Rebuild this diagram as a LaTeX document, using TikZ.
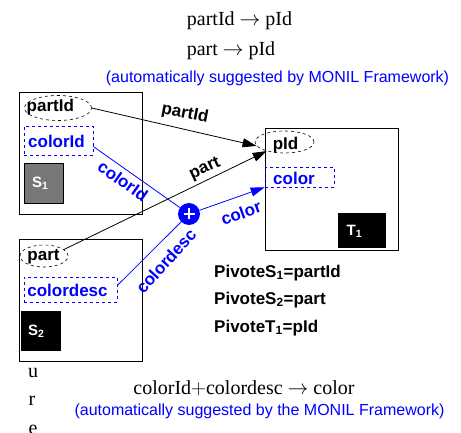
\documentclass[tikz,border=0pt]{standalone}
\usepackage{fontspec}
\setmainfont{Liberation Serif}
\setsansfont{Liberation Sans}
\usetikzlibrary{shapes.geometric,arrows.meta}
\definecolor{mblue}{RGB}{0,0,255}
\definecolor{sgray}{RGB}{120,120,120}
\begin{document}
\begin{tikzpicture}[x=1pt,y=-1pt,
  box/.style={draw, line width=0.8pt, inner sep=0pt, anchor=north west},
  idbox/.style={draw, dashed, line width=0.6pt, inner sep=0pt},
  attr/.style={font=\sffamily\bfseries\fontsize{17}{19}\selectfont, inner sep=0pt},
  lab/.style={font=\sffamily\bfseries\fontsize{17}{19}\selectfont, inner sep=0pt},
  tag/.style={font=\sffamily\bfseries\fontsize{15}{17}\selectfont, text=white, inner sep=0pt},
  serif/.style={font=\rmfamily\fontsize{20}{22}\selectfont, inner sep=0pt, anchor=base},
  note/.style={font=\sffamily\fontsize{16}{18}\selectfont, text=mblue, inner sep=0pt, anchor=base},
  piv/.style={font=\sffamily\bfseries\fontsize{17}{19}\selectfont, inner sep=0pt, anchor=base west},
  arr/.style={line width=0.8pt, -{Triangle[length=14pt,width=9pt]}},
  conn/.style={line width=0.8pt}
]
\useasboundingbox (0,0) rectangle (461,433);

% top text
\node[serif] (f1) at (239.5,26) {partId $\rightarrow$ pId};
\node[serif] (f2) at (231,56) {part $\rightarrow$ pId};
\node[note] (n1) at (277.5,83) {(automatically suggested by MONIL Framework)};

% S1 box
\node[box, minimum width=123pt, minimum height=122pt] (S1) at (19,92) {};
\node[draw, dashed, ellipse, line width=0.6pt, minimum width=67pt, minimum height=25pt, inner sep=0pt] (e1) at (58,108) {};
\node[attr, anchor=west] (t1) at (26.5,107) {partId};
\node[idbox, draw=mblue, minimum width=69pt, minimum height=29pt] (r1) at (58.5,140.5) {};
\node[attr, text=mblue] (t2) at (56.5,141) {colorId};
\node[draw, fill=sgray, line width=0.8pt, minimum width=39pt, minimum height=40pt, inner sep=0pt] (g1) at (43.5,183) {};
\node[tag, anchor=west] (s1) at (32,183) {S\textsubscript{1}};

% S2 box
\node[box, minimum width=123pt, minimum height=122pt] (S2) at (19,239) {};
\node[draw, dashed, ellipse, line width=0.6pt, minimum width=48pt, minimum height=22pt, inner sep=0pt] (e2) at (44,256) {};
\node[attr] (t3) at (43.5,256.5) {part};
\node[idbox, draw=mblue, minimum width=93pt, minimum height=25pt] (r2) at (70.5,289.5) {};
\node[attr, text=mblue] (t4) at (67.5,290) {colordesc};
\node[fill=black, minimum width=40pt, minimum height=40pt, inner sep=0pt] (g2) at (41,331) {};
\node[tag, anchor=west] (s2) at (28,331) {S\textsubscript{2}};

% T1 box
\node[box, minimum width=133pt, minimum height=122pt] (T1) at (265,128) {};
\node[draw, dashed, ellipse, line width=0.6pt, minimum width=59pt, minimum height=22pt, inner sep=0pt] (p) at (284.5,142) {};
\node[attr] (t5) at (285.5,145) {pId};
\node[idbox, draw=mblue, minimum width=69pt, minimum height=20pt] (r3) at (299.5,177) {};
\node[attr, text=mblue, anchor=west] (t6) at (273,178) {color};
\node[fill=black, minimum width=48pt, minimum height=35pt, inner sep=0pt] (g3) at (362,230.5) {};
\node[tag, anchor=west] (s3) at (346.5,231) {T\textsubscript{1}};

% plus
\node[circle, fill=mblue, minimum size=22pt, inner sep=0pt] (plus) at (189,214) {};
\draw[white, line width=2.2pt] ([xshift=-5.5pt]plus.center) -- ([xshift=5.5pt]plus.center)
  ([yshift=-5.5pt]plus.center) -- ([yshift=5.5pt]plus.center);

% connectors
\draw[arr] (e1.east) -- (p.188);
\draw[arr] (e2.18) -- (p.207);
\draw[conn, mblue] ([yshift=-6pt]r1.east) -- (plus);
\draw[conn, mblue] ([yshift=4pt]r2.east) -- (plus);
\draw[arr, mblue] (plus) -- (r3.south west);

% connector labels
\node[lab, rotate=-11] (l1) at (185,114) {partId};
\node[lab, rotate=25] (l2) at (205,169) {part};
\node[lab, text=mblue, rotate=-35] (l3) at (123,181) {colorId};
\node[lab, text=mblue, rotate=48] (l4) at (166,261) {colordesc};
\node[lab, text=mblue, rotate=20] (l5) at (241,213) {color};

% pivots
\node[piv] (v1) at (214,277) {PivoteS\textsubscript{1}=partId};
\node[piv] (v2) at (214,304) {PivoteS\textsubscript{2}=part};
\node[piv] (v3) at (214,332) {PivoteT\textsubscript{1}=pId};

% stray letters
\node[serif] (u) at (33,377) {u};
\node[serif] (r) at (32,405) {r};
\node[serif] (e) at (33,434) {e};

% bottom text
\node[serif] (f3) at (244,394) {colorId$+$colordesc $\rightarrow$ color};
\node[note] (n2) at (259.5,415) {(automatically suggested by the MONIL Framework)};
\end{tikzpicture}
\end{document}
